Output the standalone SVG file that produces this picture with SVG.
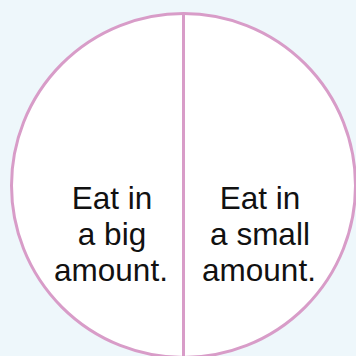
<svg xmlns="http://www.w3.org/2000/svg" width="356" height="356" viewBox="0 0 356 356">
<style>
.lbl{font-family:"Liberation Sans",Arial,Helvetica,sans-serif;font-size:31.5px;fill:#111;text-anchor:middle}
.edge{stroke:#d89cc8;stroke-width:3}
</style>
<rect x="0" y="0" width="356" height="356" fill="#eef7fb"/>
<g id="circle">
<circle cx="183.5" cy="185.5" r="172" fill="#ffffff" class="edge"/>
</g>
<g id="connectors">
<line x1="183.5" y1="13" x2="183.5" y2="356" fill="none" class="edge"/>
</g>
<g id="left">
<text class="lbl" x="112" y="209">Eat in</text>
<text class="lbl" x="112" y="245">a big</text>
<text class="lbl" x="111" y="281">amount.</text>
</g>
<g id="right">
<text class="lbl" x="260" y="209">Eat in</text>
<text class="lbl" x="260" y="245">a small</text>
<text class="lbl" x="259" y="281">amount.</text>
</g>
</svg>
